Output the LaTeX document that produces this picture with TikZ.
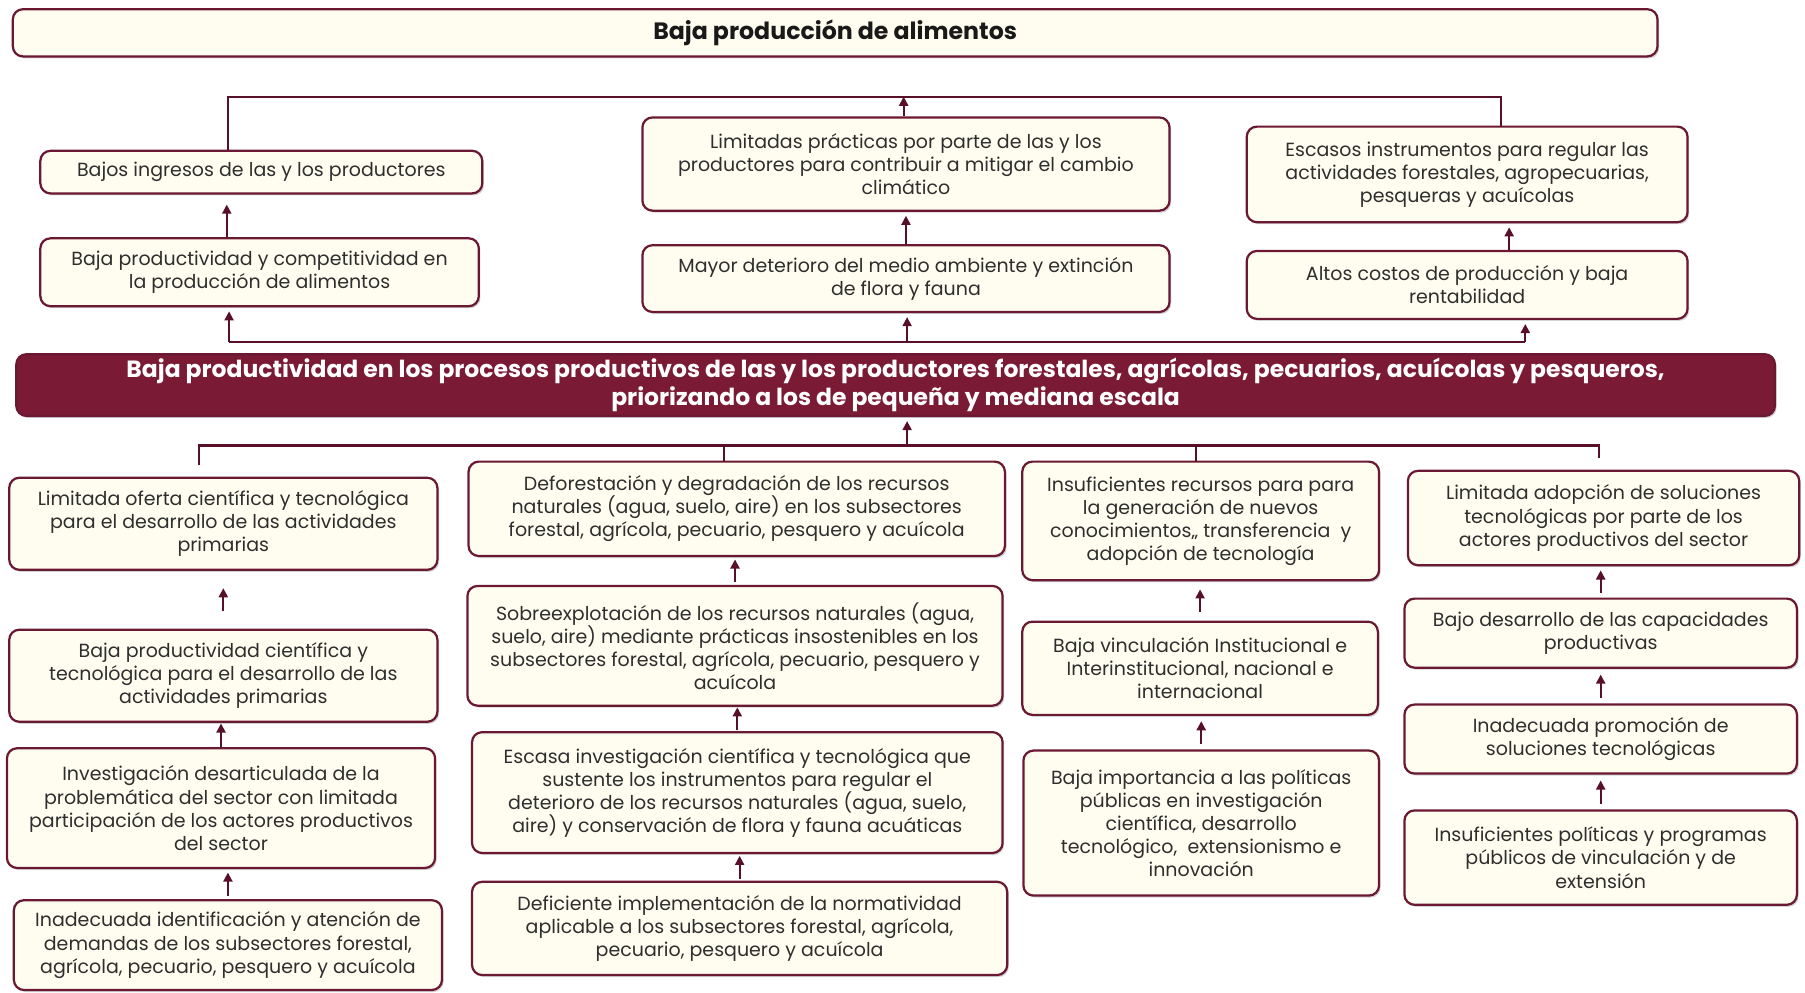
\documentclass[tikz,border=0pt]{standalone}
\usepackage{fontspec}
\setmainfont{Poppins}
\usepackage{tikz}
\usetikzlibrary{arrows.meta,calc,shadows,positioning}
\usepackage{xcolor}
\definecolor{Guinda}{RGB}{107,24,50}
\definecolor{GuindaOscura}{RGB}{88,16,40}
\definecolor{Crema}{RGB}{255,253,240}
\definecolor{Vino}{RGB}{122,26,52}

\tikzset{
  caja/.style={draw=Guinda, line width=1.1pt, fill=Crema, rounded corners=5pt, align=center, inner sep=2pt,
    text=black!82, font=\fontsize{9.4}{11.4}\selectfont,
    drop shadow={shadow xshift=0.8pt, shadow yshift=-1pt, opacity=0.35}},
  titulo/.style={caja, text=black!90, font=\bfseries\fontsize{11.7}{14}\selectfont},
  problema/.style={caja, fill=Vino, text=white, font=\bfseries\fontsize{11.6}{13.8}\selectfont},
  linea/.style={draw=GuindaOscura, line width=1pt},
  flecha/.style={linea, -{Triangle[width=4.5pt,length=4.5pt]}, shorten >=2pt},
}

\begin{document}
\begin{tikzpicture}[x=0.02cm, y=-0.02cm]
\useasboundingbox (0,0) rectangle (1568,862);
%
% efectos
\node[titulo, minimum width=28.58cm, minimum height=0.82cm] (efecto) at (725.5,28.5) {Baja producción de alimentos};
\node[caja, minimum width=7.68cm, minimum height=0.74cm] (ingresos) at (227,149.5) {Bajos ingresos de las y los productores};
\node[caja, minimum width=7.62cm, minimum height=1.18cm] (competit) at (225.5,236.5) {Baja productividad y competitividad en\\la producción de alimentos};
\node[caja, minimum width=9.16cm, minimum height=1.62cm] (limitadas) at (787,142.5) {Limitadas prácticas por parte de las y los\\productores para contribuir a mitigar el cambio\\climático};
\node[caja, minimum width=9.16cm, minimum height=1.16cm] (deterioro) at (787,242) {Mayor deterioro del medio ambiente y extinción\\de flora y fauna};
\node[caja, minimum width=7.66cm, minimum height=1.66cm] (escasos) at (1274.5,151.5) {Escasos instrumentos para regular las\\actividades forestales, agropecuarias,\\pesqueras y acuícolas};
\node[caja, minimum width=7.66cm, minimum height=1.18cm] (altos) at (1274.5,247.5) {Altos costos de producción y baja\\rentabilidad};
%
% problema central
\node[problema, minimum width=30.56cm, minimum height=1.02cm] (central) at (778,334.5) {Baja productividad en los procesos productivos de las y los productores forestales, agrícolas, pecuarios, acuícolas y pesqueros,\\priorizando a los de pequeña y mediana escala};
%
% causas
\node[caja, minimum width=7.44cm, minimum height=1.6cm] (ofertaCT) at (194,455) {Limitada oferta científica y tecnológica\\para el desarrollo de las actividades\\primarias};
\node[caja, minimum width=7.44cm, minimum height=1.6cm] (prodCT) at (194,587) {Baja productividad científica y\\tecnológica para el desarrollo de las\\actividades primarias};
\node[caja, minimum width=7.44cm, minimum height=2.08cm] (investig) at (192,702) {Investigación desarticulada de la\\problemática del sector con limitada\\participación de los actores productivos\\del sector};
\node[caja, minimum width=7.44cm, minimum height=1.56cm] (demandas) at (198,821) {Inadecuada identificación y atención de\\demandas de los subsectores forestal,\\agrícola, pecuario, pesquero y acuícola};
%
\node[caja, minimum width=9.32cm, minimum height=1.64cm] (deforest) at (640,442) {Deforestación y degradación de los recursos\\naturales (agua, suelo, aire) en los subsectores\\forestal, agrícola, pecuario, pesquero y acuícola};
\node[caja, minimum width=9.3cm, minimum height=2.08cm] (sobreexp) at (638.5,561) {Sobreexplotación de los recursos naturales (agua,\\suelo, aire) mediante prácticas insostenibles en los\\subsectores forestal, agrícola, pecuario, pesquero y\\acuícola};
\node[caja, minimum width=9.22cm, minimum height=2.1cm] (escasaInv) at (640.5,688.5) {Escasa investigación científica y tecnológica que\\sustente los instrumentos para regular el\\deterioro de los recursos naturales (agua, suelo,\\aire) y conservación de flora y fauna acuáticas};
\node[caja, minimum width=9.3cm, minimum height=1.62cm] (normativ) at (642.5,806.5) {Deficiente implementación de la normatividad\\aplicable a los subsectores forestal, agrícola,\\pecuario, pesquero y acuícola};
%
\node[caja, minimum width=6.2cm, minimum height=2.06cm] (recursos) at (1043,452.5) {Insuficientes recursos para para\\la generación de nuevos\\conocimientos,, transferencia~ y\\adopción de tecnología};
\node[caja, minimum width=6.18cm, minimum height=1.62cm] (vinculac) at (1042.5,580.5) {Baja vinculación Institucional e\\Interinstitucional, nacional e\\internacional};
\node[caja, minimum width=6.18cm, minimum height=2.52cm] (importanc) at (1043.5,715) {Baja importancia a las políticas\\públicas en investigación\\científica, desarrollo\\tecnológico,~ extensionismo e\\innovación};
%
\node[caja, minimum width=6.8cm, minimum height=1.64cm] (adopcion) at (1393,450) {Limitada adopción de soluciones\\tecnológicas por parte de los\\actores productivos del sector};
\node[caja, minimum width=6.82cm, minimum height=1.2cm] (capacid) at (1390.5,550) {Bajo desarrollo de las capacidades\\productivas};
\node[caja, minimum width=6.82cm, minimum height=1.2cm] (promocion) at (1390.5,642) {Inadecuada promoción de\\soluciones tecnológicas};
\node[caja, minimum width=6.82cm, minimum height=1.64cm] (politicas) at (1390.5,745) {Insuficientes políticas y programas\\públicos de vinculación y de\\extensión};
%
% barra superior
\coordinate (supIzq) at (198,84);
\coordinate (supDer) at (1304,84);
\draw[linea] (ingresos.north -| supIzq) -- (supIzq) -- (supDer) -- (escasos.north -| supDer);
\draw[flecha, shorten >=0pt] (limitadas.north -| 785,0) -- (supIzq -| 785,0);
\draw[flecha, shorten >=5pt] (competit.north -| 197,0) -- (ingresos.south -| 197,0);
\draw[flecha] (deterioro.north) -- (limitadas.south);
\draw[flecha] (altos.north -| 1311,0) -- (escasos.south -| 1311,0);
%
% barra media
\coordinate (medIzq) at (199,297);
\coordinate (medCen) at (788,297);
\coordinate (medDer) at (1325,297);
\draw[linea] (medIzq) -- (medDer);
\draw[flecha] (medIzq) -- (competit.south -| medIzq);
\draw[flecha] (medCen) -- (deterioro.south -| medCen);
\draw[flecha] (medDer) -- (altos.south -| medDer);
%
% barra inferior
\coordinate (infIzq) at (173,387);
\coordinate (infCen) at (788,387);
\coordinate (infDer) at (1389,387);
\draw[linea] ($(ofertaCT.north -| infIzq)+(0,-10)$) -- (infIzq) -- (infDer) -- ($(adopcion.north -| infDer)+(0,-10)$);
\draw[linea] (deforest.north -| 629,0) -- (infIzq -| 629,0);
\draw[linea] (recursos.north -| 1039,0) -- (infIzq -| 1039,0);
\draw[flecha] (infCen) -- (central.south -| infCen);
%
\foreach \abajo/\arriba in {prodCT/ofertaCT, investig/prodCT, demandas/investig,
  sobreexp/deforest, escasaInv/sobreexp, normativ/escasaInv,
  vinculac/recursos, importanc/vinculac,
  capacid/adopcion, promocion/capacid, politicas/promocion}
  \draw[flecha, shorten >=0pt] ($(\abajo.north)!.5!(\abajo.north |- \arriba.south)+(0,10)$) -- ++(0,-20);
%
\end{tikzpicture}
\end{document}
